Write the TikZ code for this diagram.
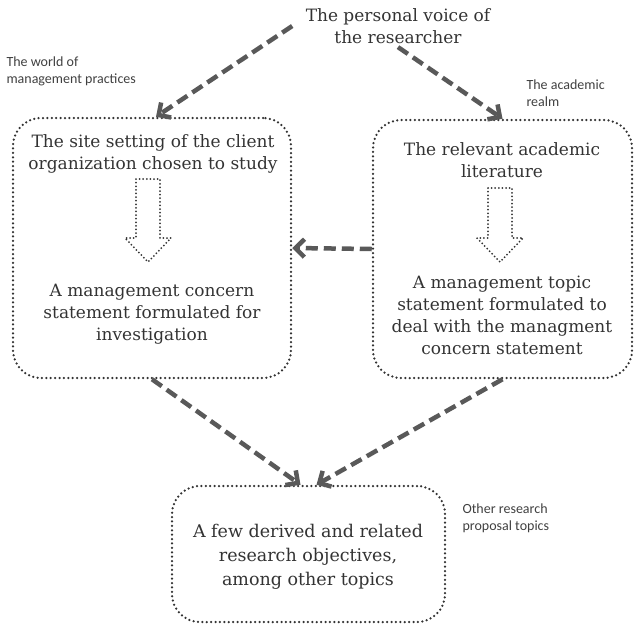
\documentclass[tikz,border=0pt]{standalone}
\usepackage{fontspec}
\setmainfont{DejaVu Serif}
\newfontfamily\notefont{Carlito}
\usetikzlibrary{arrows.meta}

\begin{document}
\begin{tikzpicture}
[x=1pt,y=-1pt,
  dottedBox/.style={draw=black!80,line width=2.5pt,line cap=round,dash pattern=on 0pt off 4.4pt,rounded corners=28pt},%
  mainText/.style={align=center,text=black!80,font=\fontsize{17}{22}\selectfont},%
  noteText/.style={align=left,text=black!75,font=\notefont\fontsize{14}{17}\selectfont},%
  darkArrow/.style={draw=black!65,line width=4.5pt,dash pattern=on 12pt off 6pt,-{Straight Barb[length=9pt,width=18pt]}},%
  hollowArrow/.style={draw=black!80,line width=2pt,line cap=round,dash pattern=on 0pt off 3.6pt}]
\useasboundingbox (0,0) rectangle (636,627);
%% the three dotted boxes
\foreach \nodename/\x/\y/\w/\h in {site/152/248/278/260, lit/502.5/249/259/258,
  goal/308.5/554/273/136}
{
  \node[dottedBox,minimum width=\w pt,minimum height=\h pt] (\nodename) at (\x,\y) {};
}
%% the texts
\node[mainText] (voice) at (398,26) {The personal voice of\\the researcher};
\node[mainText] (siteTop) at (153,154) {The site setting of the client\\organization chosen to study};
\node[mainText] (siteBottom) at (152,314) {A management concern\\statement formulated for\\investigation};
\node[mainText] (litTop) at (502,160) {The relevant academic\\literature};
\node[mainText] (litBottom) at (502,315) {A management topic\\statement formulated to\\deal with the managment\\concern statement};
\node[mainText,font=\fontsize{17.5}{24}\selectfont] (goalText) at (308,557) {A few derived and related\\research objectives,\\among other topics};
\node[noteText,anchor=west] (worldNote) at (3,71) {The world of\\management practices};
\node[noteText,anchor=west] (realmNote) at (523,93) {The academic\\realm};
\node[noteText,anchor=west] (otherNote) at (459,518) {Other research\\proposal topics};
%% the hollow arrows inside the boxes
\foreach \cx/\top in {148/179, 500/188}
{
  \draw[hollowArrow] ({\cx-12},\top) -- ({\cx+12},\top) -- ({\cx+12},238) -- ({\cx+23},238)
    -- (\cx,262) -- ({\cx-23},238) -- ({\cx-12},238) -- cycle;
}
%% the dashed connectors
\draw[darkArrow] ([xshift=-10pt]voice.west) -- ([xshift=4pt]site.north);
\draw[darkArrow] (voice.south) -- (lit.north);
\draw[darkArrow] (lit.west) -- (site.east);
\draw[darkArrow] (site.south) -- ([xshift=-8pt]goal.north);
\draw[darkArrow] (lit.south) -- ([xshift=8pt]goal.north);
\end{tikzpicture}
\end{document}
